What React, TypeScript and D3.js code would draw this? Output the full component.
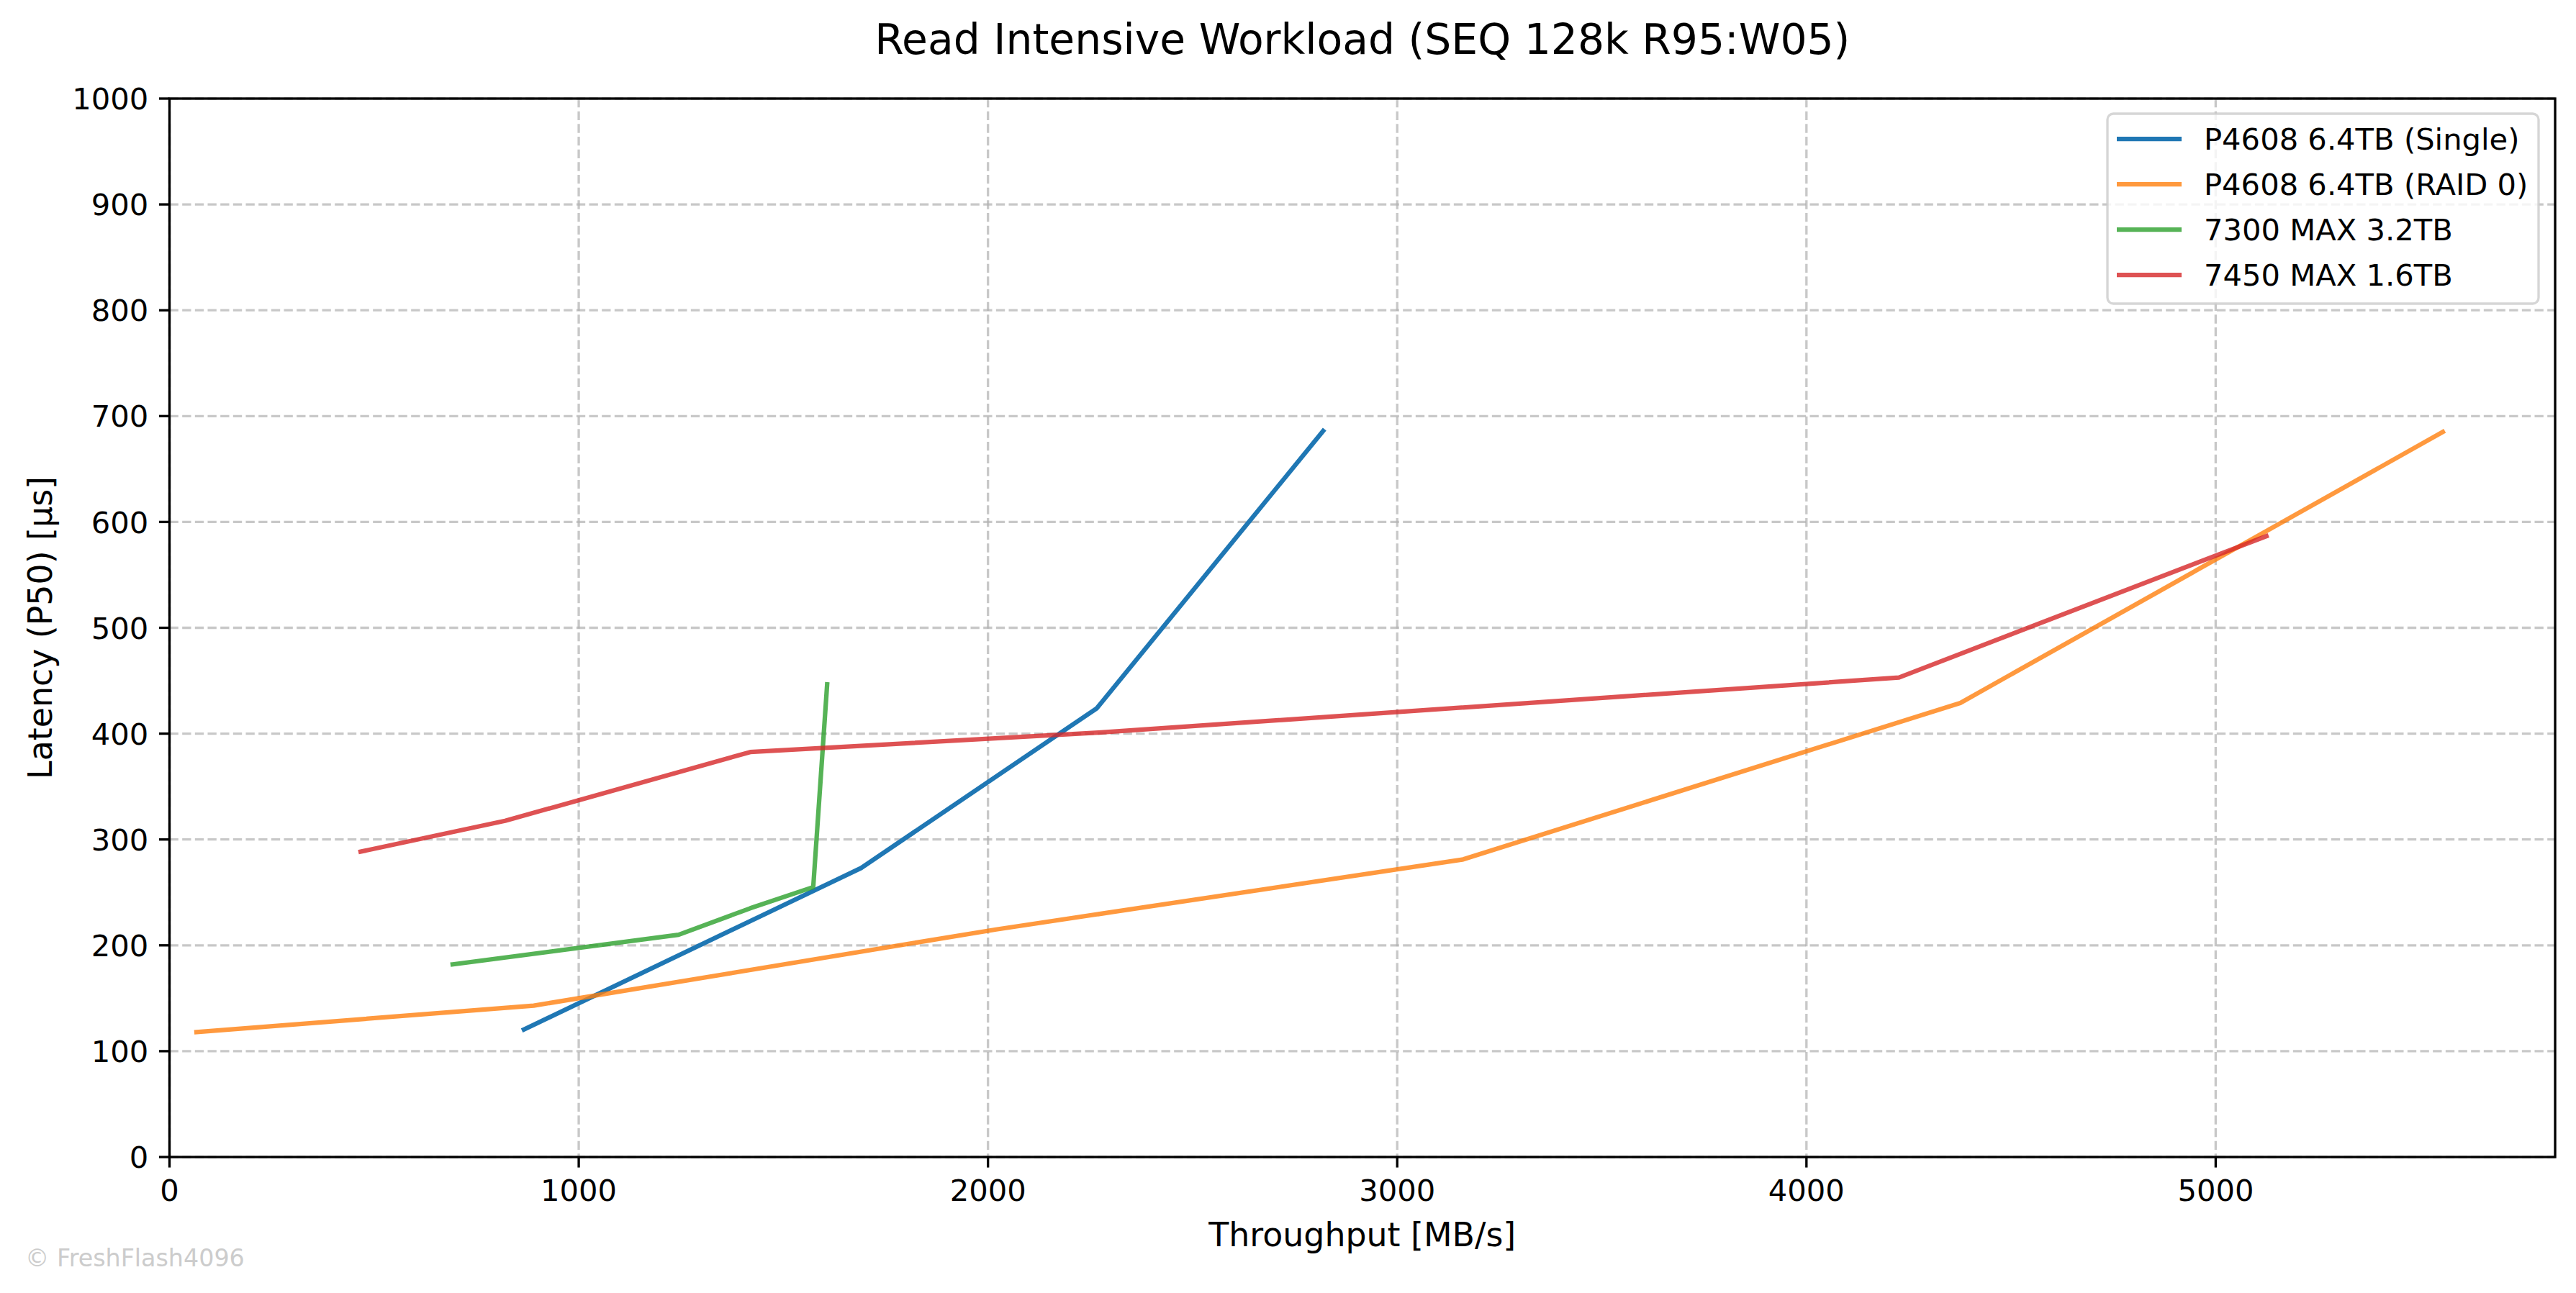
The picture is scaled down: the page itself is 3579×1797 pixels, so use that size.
import React from "react";
import * as d3 from "d3";

// ---- Data ----
const seriesNames = [
  "P4608 6.4TB (Single)",
  "P4608 6.4TB (RAID 0)",
  "7300 MAX 3.2TB",
  "7450 MAX 1.6TB",
];
const seriesColors = ["#1f77b4", "#ff7f0e", "#2ca02c", "#d62728"];
const seriesAlpha = [1, 0.8, 0.8, 0.8];

const singleX = [866, 1690, 2266, 2819];
const singleY = [120.5, 273, 424, 686];

const raidX = [66, 890, 2020, 3159, 4376, 5555];
const raidY = [118, 143, 215, 281, 429, 685];

const max7300X = [692, 1244, 1419, 1573, 1607];
const max7300Y = [182, 210, 235, 255, 446.5];

const max7450X = [467, 820, 1419, 2270, 4226, 5124];
const max7450Y = [288.5, 317.6, 382.6, 401, 453, 586.6];

const xTicks = [0, 1000, 2000, 3000, 4000, 5000];
const yTicks = [0, 100, 200, 300, 400, 500, 600, 700, 800, 900, 1000];

const titleText = "Read Intensive Workload (SEQ 128k R95:W05)";
const xLabelText = "Throughput [MB/s]";
const yLabelText = "Latency (P50) [µs]";
const watermarkText = "© FreshFlash4096";

// ---- Layout ----
const W = 3579;
const H = 1797;
const LEFT = 235.5;
const RIGHT = 3550;
const TOP = 137;
const BOTTOM = 1608;
const FONT = "'DejaVu Sans', sans-serif";
const PT = 300 / 72;

export default function App() {
  React.useEffect(() => {
    document.body.style.margin = "0";
  }, []);

  const allX = [...singleX, ...raidX, ...max7300X, ...max7450X];
  const xMin = d3.min(allX) as number;
  const xMax = d3.max(allX) as number;
  const xUpper = xMax + 0.05 * (xMax - xMin);

  const x = d3.scaleLinear().domain([0, xUpper]).range([LEFT, RIGHT]);
  const y = d3.scaleLinear().domain([0, 1000]).range([BOTTOM, TOP]);

  const series = [
    { xs: singleX, ys: singleY },
    { xs: raidX, ys: raidY },
    { xs: max7300X, ys: max7300Y },
    { xs: max7450X, ys: max7450Y },
  ];

  const line = d3
    .line<[number, number]>()
    .x((d) => x(d[0]))
    .y((d) => y(d[1]));

  const tickLen = 3.5 * PT;
  const tickPad = 3.5 * PT;
  const tickFont = 10 * PT;
  const gridW = 0.8 * PT;
  const spineW = 0.8 * PT;
  const lineW = 1.5 * PT;

  // legend
  const legX = 2928;
  const legY = 158;
  const legW = 599;
  const legH = 264;
  const legRow0 = 193;
  const legRowStep = 63;

  return (
    <svg
      width={W}
      height={H}
      viewBox={`0 0 ${W} ${H}`}
      style={{ position: "absolute", left: 0, top: 0, background: "#fff" }}
      fontFamily={FONT}
    >
      <rect x={0} y={0} width={W} height={H} fill="#ffffff" />

      {/* grid */}
      <g stroke="#b0b0b0" strokeOpacity={0.7} strokeWidth={gridW} strokeDasharray={`${3.7 * 0.8 * PT} ${1.6 * 0.8 * PT}`}>
        {xTicks.map((t) => (
          <line key={"gx" + t} x1={x(t)} x2={x(t)} y1={TOP} y2={BOTTOM} />
        ))}
        {yTicks.map((t) => (
          <line key={"gy" + t} x1={LEFT} x2={RIGHT} y1={y(t)} y2={y(t)} />
        ))}
      </g>

      {/* data lines */}
      <g fill="none" strokeWidth={lineW} strokeLinejoin="round" strokeLinecap="square">
        {series.map((s, i) => (
          <path
            key={"s" + i}
            d={line(s.xs.map((v, j) => [v, s.ys[j]] as [number, number])) || ""}
            stroke={seriesColors[i]}
            strokeOpacity={seriesAlpha[i]}
          />
        ))}
      </g>

      {/* spines */}
      <rect
        x={LEFT}
        y={TOP}
        width={RIGHT - LEFT}
        height={BOTTOM - TOP}
        fill="none"
        stroke="#000"
        strokeWidth={spineW}
      />

      {/* x ticks */}
      <g>
        {xTicks.map((t) => (
          <g key={"xt" + t}>
            <line x1={x(t)} x2={x(t)} y1={BOTTOM} y2={BOTTOM + tickLen} stroke="#000" strokeWidth={spineW} />
            <text
              x={x(t)}
              y={BOTTOM + tickLen + tickPad + 0.76 * tickFont}
              textAnchor="middle"
              fontSize={tickFont}
              fill="#000"
            >
              {t}
            </text>
          </g>
        ))}
      </g>

      {/* y ticks */}
      <g>
        {yTicks.map((t) => (
          <g key={"yt" + t}>
            <line x1={LEFT - tickLen} x2={LEFT} y1={y(t)} y2={y(t)} stroke="#000" strokeWidth={spineW} />
            <text
              x={LEFT - tickLen - tickPad}
              y={y(t) + 0.364 * tickFont}
              textAnchor="end"
              fontSize={tickFont}
              fill="#000"
            >
              {t}
            </text>
          </g>
        ))}
      </g>

      {/* labels */}
      <text x={(LEFT + RIGHT) / 2} y={75} textAnchor="middle" fontSize={14 * PT} fill="#000">
        {titleText}
      </text>
      <text x={(LEFT + RIGHT) / 2} y={1732} textAnchor="middle" fontSize={11 * PT} fill="#000">
        {xLabelText}
      </text>
      <text
        transform={`translate(72, ${(TOP + BOTTOM) / 2}) rotate(-90)`}
        textAnchor="middle"
        fontSize={11 * PT}
        fill="#000"
      >
        {yLabelText}
      </text>

      {/* legend */}
      <g>
        <rect
          x={legX}
          y={legY}
          width={legW}
          height={legH}
          rx={8.3}
          ry={8.3}
          fill="#ffffff"
          fillOpacity={0.8}
          stroke="#cccccc"
          strokeOpacity={0.8}
          strokeWidth={spineW}
        />
        {seriesNames.map((name, i) => {
          const cy = legRow0 + i * legRowStep;
          return (
            <g key={"leg" + i}>
              <line
                x1={2941}
                x2={3031}
                y1={cy}
                y2={cy}
                stroke={seriesColors[i]}
                strokeOpacity={seriesAlpha[i]}
                strokeWidth={lineW}
              />
              <text x={3062} y={cy + 0.364 * tickFont} fontSize={tickFont} fill="#000">
                {name}
              </text>
            </g>
          );
        })}
      </g>

      {/* watermark */}
      <text x={35} y={1760} fontSize={8 * PT} fill="#cccccc">
        {watermarkText}
      </text>
    </svg>
  );
}
